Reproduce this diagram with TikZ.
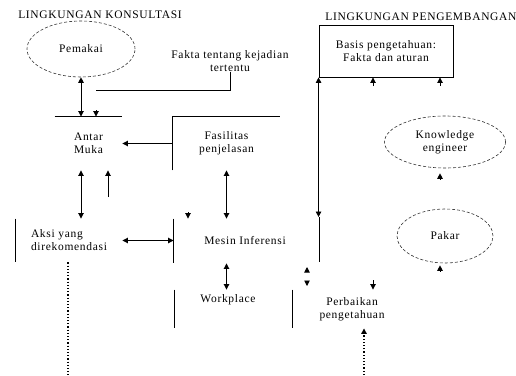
\documentclass[tikz,border=0pt]{standalone}
\usepackage{fontspec}
\setmainfont{Liberation Serif}[LetterSpace=6]
\usetikzlibrary{arrows.meta,shapes.geometric}

\begin{document}
\begin{tikzpicture}[x=1pt,y=-1pt,>={Triangle[length=5.5pt,width=5.5pt]},line width=0.9pt]
  \tikzstyle{judul}=[font=\fontsize{11.5}{12}\selectfont, inner sep=0pt]
  \tikzstyle{teks}=[font=\fontsize{11.5}{13}\selectfont, align=center, inner sep=0pt]
  \tikzstyle{elips}=[ellipse, draw=black!80, dash pattern=on 3pt off 2pt, line width=0.6pt, teks]
  \tikzstyle{kotak}=[rectangle, teks]

  \useasboundingbox (0,0) rectangle (516,375);

  % judul lingkungan
  \node[judul] (konsul) at (100,15) {LINGKUNGAN KONSULTASI};
  \node[judul] (kembang) at (421,17) {LINGKUNGAN PENGEMBANGAN};

  % lingkungan konsultasi
  \node[elips, minimum width=108, minimum height=56] (pemakai) at (81,49) {Pemakai};
  \node[teks] (fakta) at (230,61) {Fakta tentang kejadian\\tertentu};
  \node[kotak, minimum width=67, minimum height=53] (antar) at (88.5,143.5) {Antar\\Muka};
  \node[kotak, minimum width=107, minimum height=53] (fasil) at (226.5,143.5) {Fasilitas\\penjelasan};
  \node[kotak, minimum width=106, minimum height=43, align=left] (aksi) at (69,240.5) {Aksi yang\\direkomendasi};
  \node[kotak, minimum width=142, minimum height=44] (mesin) at (245,241) {Mesin Inferensi};
  \node[kotak, minimum width=106, minimum height=38] (work) at (228,309) {};
  \node[teks] (work-t) at (228,300) {Workplace};
  \node[kotak, minimum width=118, minimum height=38] (perb) at (352,309) {Perbaikan\\pengetahuan};

  % lingkungan pengembangan
  \node[kotak, draw, minimum width=134, minimum height=52] (basis) at (386,51) {Basis pengetahuan:\\Fakta dan aturan};
  \node[elips, minimum width=121, minimum height=52] (ke) at (445,142) {Knowledge\\engineer};
  \node[elips, minimum width=96, minimum height=54] (pakar) at (445,236) {Pakar};

  % sisi kotak
  \draw (antar.north west) -- (antar.north east);
  \draw (fasil.south west) -- (fasil.north west) -- (fasil.north east);
  \draw (aksi.north west) -- (aksi.south west);
  \draw (mesin.north west) -- (mesin.south west);
  \draw (work.north west) -- (work.south west);
  \draw (perb.north west) -- (perb.south west);

  % panah
  \draw[<->] (pemakai.south) -- (pemakai.south |- antar.north);
  \coordinate (f1) at (96,90);
  \draw (fakta.south) |- (f1);
  \draw[->] (fasil.west) -- (antar.east);
  \draw[<->] (pemakai.south |- antar.south) -- (pemakai.south |- aksi.north);
  \coordinate (u1) at (108,197);
  \draw[->] (u1) -- (u1 |- antar.south);
  \draw[<->] (fasil.south) -- (fasil.south |- mesin.north);
  \draw[<->] (aksi.east) -- (aksi.east -| mesin.west);
  \draw[<->] (fasil.south |- mesin.south) -- (fasil.south |- work.north);
  \coordinate (k1) at (319,217);
  \coordinate (k2) at (319,262);
  \draw[<->] (basis.south west) -- (basis.south west |- k1);
  \draw (k1) -- (k2);
  \coordinate (d1) at (68,375);
  \draw[dotted, line width=1.2pt] (d1 |- aksi.south) -- (d1);
  \coordinate (d2) at (364,375);
  \draw[dotted, line width=1.2pt, ->] (d2) -- (d2 |- perb.south);

  % ujung panah lepas
  \coordinate (s1) at (96,110);
  \draw[->] (s1) -- (s1 |- antar.north);
  \coordinate (s2) at (188,212);
  \draw[->] (s2) -- (s2 |- mesin.north);
  \coordinate (s3) at (373,86);
  \draw[->] (s3) -- (s3 |- basis.south);
  \coordinate (s4) at (440,86);
  \draw[->] (s4) -- (s4 |- basis.south);
  \draw[<-] ([xshift=-5pt,yshift=-5pt]ke.south) -- ++(0,6);
  \draw[<-] ([xshift=-5pt,yshift=-2pt]pakar.south) -- ++(0,6);
  \coordinate (s7) at (307,271);
  \draw[->] (s7) -- ++(0,-4);
  \coordinate (s8) at (307,282);
  \draw[->] (s8) -- ++(0,4);
  \coordinate (s9) at (373,280);
  \draw[->] (s9) -- (s9 |- perb.north);
\end{tikzpicture}
\end{document}
